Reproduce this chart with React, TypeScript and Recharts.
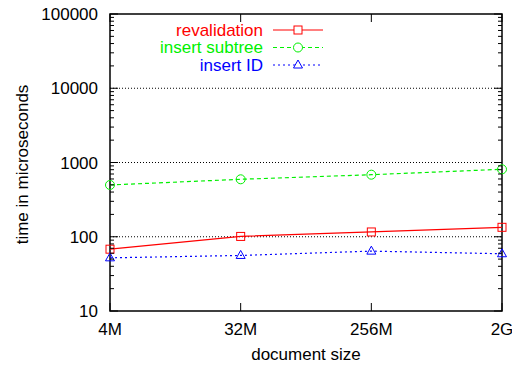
import React from 'react';
import { LineChart, Line, XAxis, YAxis, ReferenceLine, ReferenceArea, Label } from 'recharts';

const sizes = ['4M', '32M', '256M', '2G'];
const revalidation = [68, 101, 116, 134];
const insertSubtree = [498, 594, 685, 810];
const insertId = [52, 56, 64, 59];
const seriesNames = ['revalidation', 'insert subtree', 'insert ID'];
const majorTicks = [10, 100, 1000, 10000, 100000];
const gridValues = [100, 1000, 10000];

const data = sizes.map((size, i) => ({
  size,
  revalidation: revalidation[i],
  insertSubtree: insertSubtree[i],
  insertId: insertId[i],
}));

// log minor ticks 2..9 in every decade
const minorTicks = majorTicks.slice(0, -1).flatMap(m => [2, 3, 4, 5, 6, 7, 8, 9].map(k => m * k));
const allTicks = [...majorTicks, ...minorTicks].sort((a, b) => a - b);

const W = 512;
const H = 366;
const LEFT = 110;
const RIGHT = 502;
const TOP = 14;
const BOTTOM = 311;
const FONT = '"Liberation Sans", Arial, Helvetica, sans-serif';

const RED = '#ff0000';
const GREEN = '#00f000';
const BLUE = '#0000ff';

const YTick = (props: any) => {
  const { y, payload } = props;
  const major = majorTicks.includes(payload.value);
  const len = major ? 8 : 4;
  return (
    <g>
      <line x1={LEFT} x2={LEFT + len} y1={y} y2={y} stroke="#000" strokeWidth={1} />
      <line x1={RIGHT - len} x2={RIGHT} y1={y} y2={y} stroke="#000" strokeWidth={1} />
      {major && (
        <text x={LEFT - 12} y={y} dy={6} textAnchor="end" fontSize={17} fontFamily={FONT} fill="#000">
          {payload.value}
        </text>
      )}
    </g>
  );
};

const XTick = (props: any) => {
  const { x, payload } = props;
  return (
    <g>
      <line x1={x} x2={x} y1={BOTTOM} y2={BOTTOM - 8} stroke="#000" />
      <line x1={x} x2={x} y1={TOP} y2={TOP + 8} stroke="#000" />
      <text x={x} y={BOTTOM + 24} textAnchor="middle" fontSize={17} fontFamily={FONT} fill="#000">
        {payload.value}
      </text>
    </g>
  );
};

const Square = (props: any) => {
  const { cx, cy, index } = props;
  return <rect key={index} x={cx - 4} y={cy - 4} width={8} height={8} fill="none" stroke={RED} strokeWidth={1} />;
};

const Circle = (props: any) => {
  const { cx, cy, index } = props;
  return <circle key={index} cx={cx} cy={cy} r={4.5} fill="none" stroke={GREEN} strokeWidth={1} />;
};

const Triangle = (props: any) => {
  const { cx, cy, index } = props;
  return (
    <path key={index} d={`M${cx},${cy - 5}L${cx + 4.5},${cy + 3}L${cx - 4.5},${cy + 3}Z`} fill="none" stroke={BLUE} strokeWidth={1} />
  );
};

const legendRows = [
  { name: seriesNames[0], color: RED, dash: undefined, marker: 'square' },
  { name: seriesNames[1], color: GREEN, dash: '4 3', marker: 'circle' },
  { name: seriesNames[2], color: BLUE, dash: '2 3', marker: 'triangle' },
];

function LegendBox() {
  return (
    <svg width={W} height={H} style={{ position: 'absolute', left: 0, top: 0, pointerEvents: 'none' }}>
      {legendRows.map((r, i) => {
        const cy = 30 + i * 17.5;
        const mx = 298;
        return (
          <g key={r.name}>
            <text x={263} y={cy + 5.5} textAnchor="end" fontSize={17} fontFamily={FONT} fill={r.color}>
              {r.name}
            </text>
            <line x1={273} x2={323} y1={cy} y2={cy} stroke={r.color} strokeDasharray={r.dash} />
            {r.marker === 'square' && <rect x={mx - 4} y={cy - 4} width={8} height={8} fill="#fff" stroke={r.color} />}
            {r.marker === 'circle' && <circle cx={mx} cy={cy} r={4.5} fill="#fff" stroke={r.color} />}
            {r.marker === 'triangle' && (
              <path d={`M${mx},${cy - 5}L${mx + 4.5},${cy + 3}L${mx - 4.5},${cy + 3}Z`} fill="#fff" stroke={r.color} />
            )}
          </g>
        );
      })}
    </svg>
  );
}

export default function App() {
  return (
    <div style={{ position: 'absolute', left: 0, top: 0, width: W, height: H, background: '#fff' }}>
      <LineChart width={W} height={H} data={data} margin={{ top: TOP, right: W - RIGHT, bottom: 0, left: 0 }}>
        <XAxis
          dataKey="size"
          axisLine={false}
          tickLine={false}
          tickSize={0}
          tickMargin={0}
          height={H - BOTTOM}
          tick={<XTick />}
          interval={0}
        >
          <Label
            content={() => (
              <text x={(LEFT + RIGHT) / 2} y={360} textAnchor="middle" fontSize={17} fontFamily={FONT} fill="#000">
                document size
              </text>
            )}
          />
        </XAxis>
        <YAxis
          type="number"
          scale="log"
          domain={[10, 100000]}
          allowDataOverflow
          ticks={allTicks}
          interval={0}
          axisLine={false}
          tickLine={false}
          tickSize={0}
          tickMargin={0}
          width={LEFT}
          tick={<YTick />}
        >
          <Label
            content={() => (
              <text
                x={28}
                y={(TOP + BOTTOM) / 2 + 2}
                transform={`rotate(-90 28 ${(TOP + BOTTOM) / 2 + 2})`}
                textAnchor="middle"
                fontSize={17}
                fontFamily={FONT}
                fill="#000"
              >
                time in microseconds
              </text>
            )}
          />
        </YAxis>
        {gridValues.map(v => (
          <ReferenceLine key={v} y={v} stroke="#000" strokeDasharray="1 2" strokeWidth={1} />
        ))}
        <ReferenceArea x1={sizes[0]} x2={sizes[sizes.length - 1]} y1={10} y2={100000} fill="none" fillOpacity={0} stroke="#000" strokeWidth={1.5} />
        <Line type="linear" dataKey="revalidation" stroke={RED} strokeWidth={1.2} dot={Square} isAnimationActive={false} />
        <Line type="linear" dataKey="insertSubtree" stroke={GREEN} strokeWidth={1.2} strokeDasharray="4 3" dot={Circle} isAnimationActive={false} />
        <Line type="linear" dataKey="insertId" stroke={BLUE} strokeWidth={1.2} strokeDasharray="2 3" dot={Triangle} isAnimationActive={false} />
      </LineChart>
      <LegendBox />
    </div>
  );
}
